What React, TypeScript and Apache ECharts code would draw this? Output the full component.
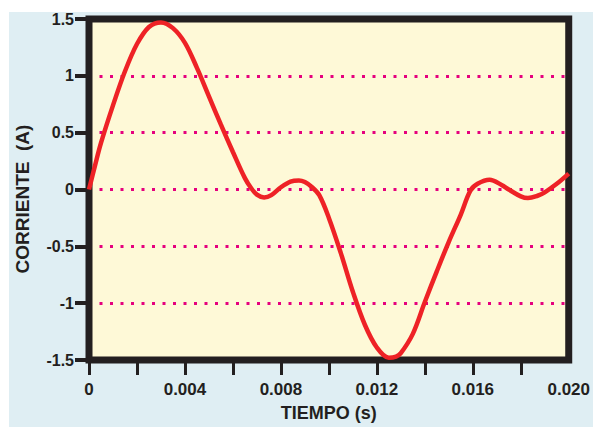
import React, { useEffect, useRef } from "react";
import * as echarts from "echarts";

// Time (s) and current (A)
const timeValues = [
  0, 0.00025, 0.0005, 0.001, 0.0015, 0.002, 0.0025, 0.003, 0.0035, 0.004,
  0.0045, 0.005, 0.0055, 0.006, 0.0065, 0.00675, 0.007, 0.0073, 0.0076, 0.008,
  0.0084, 0.00875, 0.009, 0.0093, 0.0096, 0.01, 0.0105, 0.011, 0.0115, 0.012,
  0.0125, 0.0128, 0.013, 0.0135, 0.014, 0.0145, 0.015, 0.0155, 0.0159, 0.0162,
  0.0167, 0.0172, 0.0175, 0.018, 0.0183, 0.0187, 0.019, 0.0195, 0.02,
];
const currentValues = [
  0, 0.21, 0.41, 0.74, 1.04, 1.28, 1.43, 1.47, 1.42, 1.29,
  1.07, 0.82, 0.57, 0.33, 0.1, 0.015, -0.045, -0.07, -0.05, 0.02,
  0.07, 0.08, 0.065, 0.02, -0.05, -0.25, -0.56, -0.9, -1.19, -1.39,
  -1.48, -1.47, -1.44, -1.27, -0.99, -0.72, -0.46, -0.22, -0.01, 0.05,
  0.085, 0.04, 0.0, -0.06, -0.075, -0.055, -0.025, 0.05, 0.14,
];
const xTickValues = [0, 0.002, 0.004, 0.006, 0.008, 0.01, 0.012, 0.014, 0.016, 0.018];
const xLabelValues = [0, 0.004, 0.008, 0.012, 0.016, 0.02];
const xLabelTexts = ["0", "0.004", "0.008", "0.012", "0.016", "0.020"];
const yTickLabels = ["-1.5", "-1", "-0.5", "0", "0.5", "1", "1.5"];

const FONT = "'Liberation Sans', Arial, sans-serif";
const INK = "#231f20";

export default function App() {
  const ref = useRef<HTMLDivElement>(null);
  useEffect(() => {
    if (!ref.current) return;
    const chart = echarts.init(ref.current, undefined, { renderer: "svg" });
    chart.setOption({
      animation: false,
      backgroundColor: "#ffffff",
      graphic: [
        {
          type: "rect",
          z: -100,
          silent: true,
          shape: { x: 9, y: 12, width: 600, height: 430 },
          style: { fill: "#dfeef3" },
        },
      ],
      grid: {
        left: 89,
        top: 19,
        right: 18,
        bottom: 62,
        show: true,
        backgroundColor: "#fef9d7",
        borderColor: INK,
        borderWidth: 7,
      },
      xAxis: {
        type: "value",
        min: 0,
        max: 0.02,
        interval: 0.002,
        name: "TIEMPO (s)",
        nameLocation: "middle",
        nameGap: 44,
        nameTextStyle: { fontFamily: FONT, fontWeight: "bold", fontSize: 18, color: INK },
        axisLine: { show: true, onZero: false, lineStyle: { color: INK, width: 6 } },
        axisTick: {
          show: true,
          length: 15,
          customValues: xTickValues,
          lineStyle: { color: INK, width: 3 },
        },
        axisLabel: {
          margin: 21,
          customValues: xLabelValues,
          fontFamily: FONT,
          fontWeight: "bold",
          fontSize: 17,
          color: INK,
          formatter: (v: number) => {
            const i = xLabelValues.findIndex((x) => Math.abs(x - v) < 1e-9);
            return i >= 0 ? xLabelTexts[i] : "";
          },
        },
        splitLine: { show: false },
      },
      yAxis: {
        type: "value",
        min: -1.5,
        max: 1.5,
        interval: 0.5,
        name: "CORRIENTE  (A)",
        nameLocation: "middle",
        nameGap: 57,
        nameRotate: 90,
        nameTextStyle: {
          fontFamily: FONT,
          fontWeight: "bold",
          fontSize: 19,
          color: INK,
          padding: [0, 19, 0, 0],
        },
        axisLine: { show: true, onZero: false, lineStyle: { color: INK, width: 6 } },
        axisTick: { show: true, length: 14, lineStyle: { color: INK, width: 4 } },
        axisLabel: {
          margin: 15,
          fontFamily: FONT,
          fontWeight: "bold",
          fontSize: 16,
          color: INK,
          formatter: (v: number) => {
            const i = Math.round((v + 1.5) / 0.5);
            return yTickLabels[i] ?? "";
          },
        },
        splitLine: {
          show: true,
          showMinLine: false,
          showMaxLine: false,
          lineStyle: { color: "#e5007e", width: 3, type: [3, 7.5], cap: "butt" },
        },
      },
      series: [
        {
          type: "line",
          data: timeValues.map((t, i) => [t, currentValues[i]]),
          smooth: 0.35,
          showSymbol: false,
          clip: false,
          lineStyle: { color: "#ee2226", width: 4.5 },
          z: 5,
        },
      ],
    });
    return () => chart.dispose();
  }, []);
  return (
    <div
      ref={ref}
      style={{ position: "fixed", left: 0, top: 0, width: 593, height: 427 }}
    />
  );
}
